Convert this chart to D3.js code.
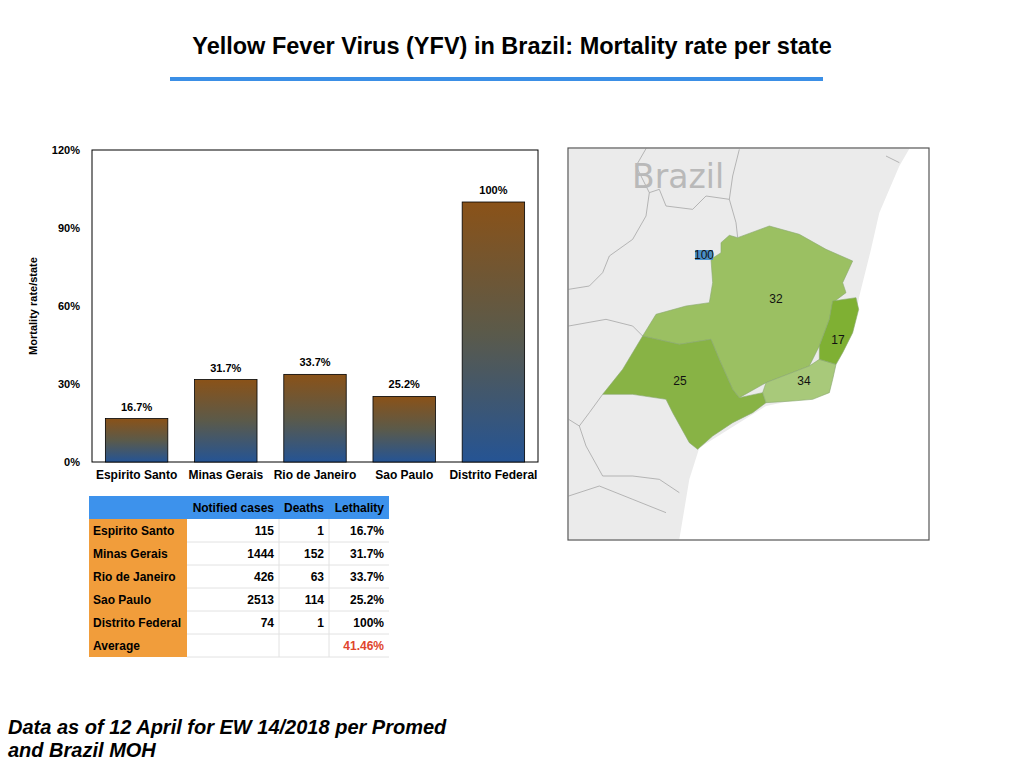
<!DOCTYPE html>
<html><head><meta charset="utf-8">
<script src="https://d3js.org/d3.v7.min.js"></script>
<style>body{margin:0;background:#fff;font-family:"Liberation Sans",Arial,sans-serif}</style>
</head><body><div id="chart"></div>
<script>
var data = [
  {state: "Espirito Santo", cases: 115, deaths: 1, rate: 16.7},
  {state: "Minas Gerais", cases: 1444, deaths: 152, rate: 31.7},
  {state: "Rio de Janeiro", cases: 426, deaths: 63, rate: 33.7},
  {state: "Sao Paulo", cases: 2513, deaths: 114, rate: 25.2},
  {state: "Distrito Federal", cases: 74, deaths: 1, rate: 100}
];

var svg = d3.select("#chart").append("svg").attr("width", 1024).attr("height", 768);

// title
svg.append("text").attr("x", 512).attr("y", 54).attr("text-anchor", "middle")
  .style("font-size", "23.5px").style("font-weight", "bold").text("Yellow Fever Virus (YFV) in Brazil: Mortality rate per state");
svg.append("rect").attr("x", 170).attr("y", 77).attr("width", 653).attr("height", 4).attr("fill", "#3b8fe6");

// bar chart
var margin = {top: 150, left: 92};
var width = 446, height = 312;
var g = svg.append("g").attr("transform", `translate(${margin.left}, ${margin.top})`);

var defs = svg.append("defs");
var grad = defs.append("linearGradient").attr("id", "barGrad").attr("x1", 0).attr("y1", 0).attr("x2", 0).attr("y2", 1);
grad.append("stop").attr("offset", "0%").attr("stop-color", "#8a5218");
grad.append("stop").attr("offset", "50%").attr("stop-color", "#5b5a4a");
grad.append("stop").attr("offset", "100%").attr("stop-color", "#255494");

var x = d3.scaleBand().domain(data.map(d => d.state)).range([0, width]).paddingInner(0.3).paddingOuter(0.15);
var y = d3.scaleLinear().domain([0, 120]).range([height, 0]);

g.append("rect").attr("width", width).attr("height", height).attr("fill", "none").attr("stroke", "#000");

g.append("g").call(d3.axisLeft(y).tickValues([0, 30, 60, 90, 120]).tickFormat(d => d + "%").tickSize(0).tickPadding(12))
  .call(a => a.select(".domain").remove())
  .selectAll("text").style("font-size", "11px").style("font-weight", "bold").attr("font-family", "Liberation Sans, Arial");

g.append("g").attr("transform", `translate(0, ${height})`).call(d3.axisBottom(x).tickSize(0).tickPadding(8))
  .call(a => a.select(".domain").remove())
  .selectAll("text").style("font-size", "12px").style("font-weight", "bold").attr("font-family", "Liberation Sans, Arial");

g.selectAll(".bar").data(data).enter().append("rect")
  .attr("x", d => x(d.state)).attr("y", d => y(d.rate))
  .attr("width", x.bandwidth()).attr("height", d => height - y(d.rate))
  .attr("fill", "url(#barGrad)").attr("stroke", "#000").attr("stroke-width", 0.8);

g.selectAll(".lbl").data(data).enter().append("text")
  .attr("x", d => x(d.state) + x.bandwidth() / 2).attr("y", d => y(d.rate) - 8)
  .attr("text-anchor", "middle").style("font-size", "11px").style("font-weight", "bold")
  .text(d => d.rate === 100 ? "100%" : d.rate.toFixed(1) + "%");

svg.append("text").attr("transform", "translate(37, 306) rotate(-90)").attr("text-anchor", "middle")
  .style("font-size", "11px").style("font-weight", "bold").text("Mortality rate/state");

// table
var tx = 89, ty = 496, rowH = 23;
var cols = [{w: 98}, {w: 92}, {w: 50}, {w: 60}];
var colX = [tx]; cols.forEach((c, i) => colX.push(colX[i] + c.w));
var tbl = svg.append("g").style("font-size", "12px").style("font-weight", "bold");
tbl.append("rect").attr("x", tx).attr("y", ty).attr("width", colX[4] - tx).attr("height", rowH).attr("fill", "#3d92ec");
["Notified cases", "Deaths", "Lethality"].forEach((h, i) => {
  tbl.append("text").attr("x", colX[i + 2] - 5).attr("y", ty + 16).attr("text-anchor", "end").text(h);
});
var rows = data.map(d => [d.state, d.cases, d.deaths, d.rate === 100 ? "100%" : d.rate.toFixed(1) + "%"]);
rows.push(["Average", "", "", "41.46%"]);
rows.forEach((r, j) => {
  var ry = ty + rowH * (j + 1);
  tbl.append("rect").attr("x", tx).attr("y", ry).attr("width", cols[0].w).attr("height", rowH).attr("fill", "#f19d3b");
  tbl.append("line").attr("x1", colX[1]).attr("x2", colX[4]).attr("y1", ry + rowH).attr("y2", ry + rowH).attr("stroke", "#e2e2e2");
  tbl.append("text").attr("x", tx + 4).attr("y", ry + 16).text(r[0]);
  for (var i = 1; i < 4; i++) {
    tbl.append("text").attr("x", colX[i + 1] - 5).attr("y", ry + 16).attr("text-anchor", "end")
      .attr("fill", j === 5 && i === 3 ? "#e0452c" : "#000").text(r[i]);
  }
});
[2, 3].forEach(i => tbl.append("line").attr("x1", colX[i]).attr("x2", colX[i]).attr("y1", ty + rowH).attr("y2", ty + rowH * 7).attr("stroke", "#e2e2e2"));

// map (sketched shapes; coords from a 3x reference crop)
var mx = 566, my = 146;
function pts(a) { return a.map(p => [p[0] / 3 + mx, p[1] / 3 + my].join(",")).join(" "); }
var map = svg.append("g");
map.append("rect").attr("x", 568).attr("y", 148).attr("width", 361).attr("height", 392).attr("fill", "#fff");
map.append("polygon").attr("fill", "#ebebeb").attr("points", pts([[8, 8], [1030, 8], [1000, 60], [940, 200], [915, 310], [880, 450], [860, 560], [810, 660], [790, 740], [600, 780], [400, 905], [370, 1000], [340, 1180], [8, 1180]]));
var borders = [
  [[8, 430], [70, 420], [110, 380], [130, 330], [200, 280], [240, 210], [250, 140], [280, 130], [300, 180], [380, 190], [420, 150], [490, 160], [500, 90], [520, 10]],
  [[490, 160], [510, 230], [515, 275]],
  [[250, 140], [210, 60], [240, 8]],
  [[8, 540], [120, 520], [200, 540], [230, 570]],
  [[8, 820], [40, 840], [60, 900], [110, 990], [200, 990], [280, 1000], [340, 1040]],
  [[110, 745], [70, 800], [40, 840]],
  [[8, 1050], [100, 1020], [200, 1060], [300, 1100]],
  [[960, 30], [1000, 50]]
];
borders.forEach(b => map.append("polyline").attr("points", pts(b)).attr("fill", "none").attr("stroke", "#9c9c9c").attr("stroke-width", 0.7));
map.append("text").attr("x", 632).attr("y", 188).style("font-size", "33px").attr("fill", "#b9b9b9")
  .attr("font-family", "DejaVu Sans").text("Brazil");
var states = [
  {name: "Minas Gerais", fill: "#9bc062", p: [[465, 290], [490, 268], [515, 275], [610, 240], [700, 265], [780, 310], [860, 345], [830, 410], [840, 440], [800, 470], [790, 520], [760, 600], [730, 660], [600, 710], [520, 755], [500, 730], [460, 640], [435, 580], [340, 595], [230, 570], [270, 505], [360, 480], [430, 470], [440, 410], [435, 340], [465, 320]]},
  {name: "Sao Paulo", fill: "#88b345", p: [[230, 570], [340, 595], [435, 580], [460, 640], [500, 730], [520, 755], [590, 740], [600, 770], [560, 800], [500, 830], [440, 870], [395, 910], [370, 890], [320, 800], [300, 760], [200, 745], [110, 745], [170, 670]]},
  {name: "Rio de Janeiro", fill: "#a8c97a", p: [[760, 640], [810, 655], [800, 700], [790, 740], [740, 760], [680, 765], [600, 770], [590, 740], [600, 710], [730, 660]]},
  {name: "Espirito Santo", fill: "#7fb033", p: [[800, 465], [870, 455], [878, 490], [860, 560], [830, 620], [810, 655], [760, 640], [760, 600], [790, 520]]}
];
states.forEach(s => map.append("polygon").attr("points", pts(s.p)).attr("fill", s.fill).attr("stroke", "#8aa870").attr("stroke-width", 0.6));
map.append("rect").attr("x", 695).attr("y", 250).attr("width", 18).attr("height", 10).attr("fill", "#4a8fc8");
[["100", 704, 259], ["32", 776, 303], ["17", 838, 344], ["25", 680, 385], ["34", 804, 385]].forEach(l => {
  map.append("text").attr("x", l[1]).attr("y", l[2]).attr("text-anchor", "middle").style("font-size", "12px").attr("fill", "#111").text(l[0]);
});
map.append("rect").attr("x", 568).attr("y", 148).attr("width", 361).attr("height", 392).attr("fill", "none").attr("stroke", "#555").attr("stroke-width", 1.2);

// footnote
svg.append("text").attr("x", 8).attr("y", 734).style("font-size", "20px").style("font-weight", "bold").style("font-style", "italic").text("Data as of 12 April for EW 14/2018 per Promed");
svg.append("text").attr("x", 8).attr("y", 757).style("font-size", "20px").style("font-weight", "bold").style("font-style", "italic").text("and Brazil MOH");
</script></body></html>
